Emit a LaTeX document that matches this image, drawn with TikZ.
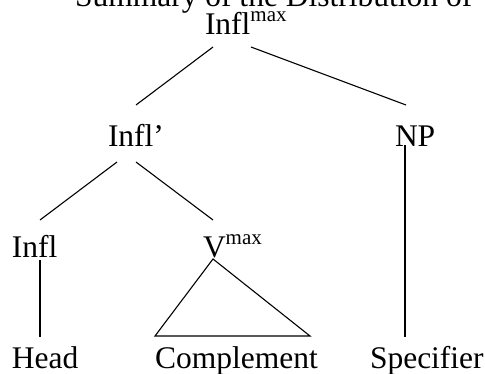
\documentclass[tikz,border=0pt]{standalone}
\usepackage{fontspec}
\setmainfont{Liberation Serif}
\begin{document}
\begin{tikzpicture}[x=1pt,y=1pt,
  lbl/.style={anchor=base west,inner sep=0pt,outer sep=0pt,font=\fontsize{31.5}{36}\selectfont},
  edge/.style={line width=1.1pt}]
\newcommand\supmax{\raisebox{13pt}{\fontsize{21}{21}\selectfont max}}
\clip (0,0) rectangle (485,373);
\useasboundingbox (0,0) rectangle (485,373);
% title (clipped at top)
\node[lbl] (title) at (75,366) {Summary of the Distribution of};
% nodes
\node[lbl] (inflmax) at (205,338) {Infl\supmax};
\node[lbl] (inflbar) at (108,226) {Infl’};
\node[lbl] (np) at (395,226) {NP};
\node[lbl] (infl) at (12,116) {Infl};
\node[lbl] (vmax) at (203,116) {V\supmax};
\node[lbl] (head) at (12,5) {Head};
\node[lbl] (compl) at (155,5) {Complement};
\node[lbl] (spec) at (370,5) {Specifier};
% connector end points
\coordinate (im-l) at (213,326);
\coordinate (im-r) at (251,326);
\coordinate (ib-t) at (136,268);
\coordinate (np-t) at (406,268);
\coordinate (ib-l) at (117,211);
\coordinate (ib-r) at (136,211);
\coordinate (in-t) at (40,153);
\coordinate (vm-t) at (213,153);
\coordinate (np-b) at (405,228);
\coordinate (sp-t) at (405,36);
\coordinate (in-b) at (40,113);
\coordinate (hd-t) at (40,36);
\coordinate (vm-b) at (213,114);
\coordinate (co-l) at (155,37);
\coordinate (co-r) at (310,37);
% connectors
\draw[edge] (im-l) -- (ib-t);
\draw[edge] (im-r) -- (np-t);
\draw[edge] (ib-l) -- (in-t);
\draw[edge] (ib-r) -- (vm-t);
\draw[edge] (np-b) -- (sp-t);
\draw[edge] (in-b) -- (hd-t);
\draw[edge,line join=miter] (vm-b) -- (co-l) -- (co-r) -- cycle;
\end{tikzpicture}
\end{document}
